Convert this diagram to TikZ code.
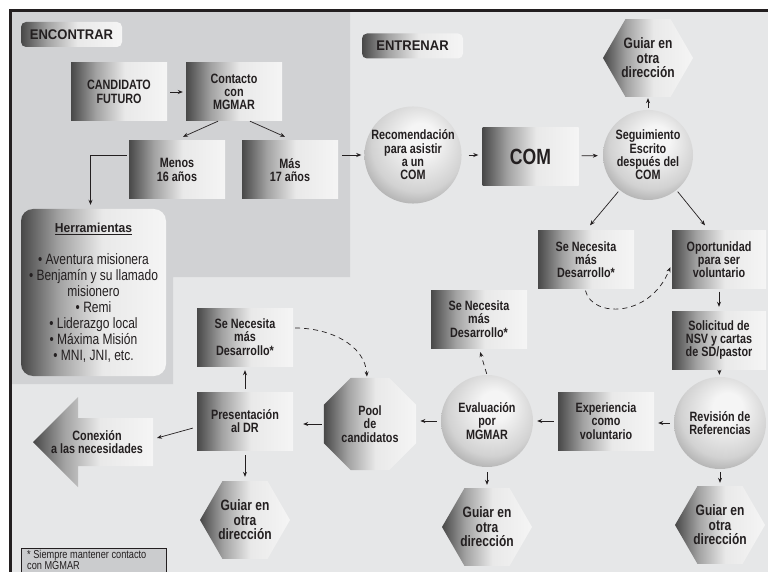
\documentclass[tikz,border=0pt]{standalone}
\usepackage{fontspec}
\setmainfont{Liberation Sans}
\newfontfamily\condf{Liberation Sans}[FakeStretch=0.8]
\newfontfamily\headf{Liberation Sans}[FakeStretch=0.93]
\usetikzlibrary{shapes.geometric,arrows.meta}
\definecolor{ink}{HTML}{231F20}
\definecolor{bgl}{HTML}{E6E7E8}
\definecolor{bgd}{HTML}{D1D2D4}
\definecolor{sd}{HTML}{484848}
\definecolor{sm}{HTML}{A2A2A2}
\definecolor{sl}{HTML}{E9E9E9}
\definecolor{sw}{HTML}{F5F5F5}
\definecolor{sc}{HTML}{D2D2D2}
\definecolor{sk}{HTML}{7E7E7E}
\definecolor{footbg}{HTML}{CBCCCE}
\pgfdeclarehorizontalshading{boxsh}{100bp}{color(0bp)=(sd); color(25bp)=(sd); color(38bp)=(sm); color(53bp)=(sl); color(75bp)=(sw); color(100bp)=(sw)}
\pgfdeclareradialshading{sph}{\pgfpoint{5bp}{10bp}}{color(0bp)=(sw); color(8bp)=(sw); color(24bp)=(sc); color(40bp)=(sk); color(50bp)=(sk)}
\begin{document}
\begin{tikzpicture}[x=1pt,y=-1pt,
  lbl/.style={font=\condf\bfseries\fontsize{13.5}{13.3}\selectfont, text=ink, align=center, inner sep=0pt},
  boxn/.style={lbl, shade, shading=boxsh, minimum width=96pt, minimum height=58pt},
  ball/.style={lbl, circle, shade, shading=sph, minimum size=90pt},
  hexn/.style={lbl, font=\condf\bfseries\fontsize{15}{14.5}\selectfont, regular polygon, regular polygon sides=6, minimum size=90pt, shade, shading=boxsh},
  octn/.style={lbl, regular polygon, regular polygon sides=8, minimum size=100pt, shade, shading=boxsh},
  tagn/.style={font=\headf\bfseries\fontsize{14}{14}\selectfont, text=ink, rounded corners=5pt, shade, shading=boxsh, minimum width=101pt, minimum height=25pt, inner sep=0pt},
  herrn/.style={font=\condf\fontsize{15}{16}\selectfont, text=ink, align=center, rounded corners=12pt, shade, shading=boxsh, minimum width=145pt, minimum height=167pt, inner sep=0pt},
  arr/.style={draw=ink, line width=0.7pt, -{Stealth[length=5pt,width=4pt]}},
  darr/.style={arr, dash pattern=on 5pt off 4pt}]
\useasboundingbox (0,0) rectangle (768,572);
\clip (0,0) rectangle (768,572);
\fill[white] (0,0) rectangle (768,572);
\fill[bgl] (10,10) rectangle (780,580);
\fill[bgd] (10,10) -- (350,10) -- (350,277) -- (173,277) -- (173,384) -- (10,384) -- cycle;
\draw[ink, line width=2.5pt] (10.5,580) -- (10.5,10.5) -- (780,10.5);

% labels
\node[tagn] (enc) at (71.5,34.5) {ENCONTRAR};
\node[tagn] (ent) at (412.5,46) {ENTRENAR};

% boxes
\node[boxn] (cand) at (119,92) {CANDIDATO\\FUTURO};
\node[boxn] (cont) at (234,92) {Contacto\\con\\MGMAR};
\node[boxn] (menos) at (177,170) {Menos\\16 años};
\node[boxn] (mas) at (290,170) {Más\\17 años};
\node[herrn] (herr) at (93.5,292.5) {{\headf\bfseries\fontsize{13}{13}\selectfont\underline{Herramientas}}\\[16pt]
 • Aventura misionera\\ • Benjamín y su llamado\\ misionero\\ • Remi\\ • Liderazgo local\\ • Máxima Misión\\ • MNI, JNI, etc.};
\node[ball] (recom) at (413,155) {Recomendación\\para asistir\\a un\\COM};
\node[boxn, font=\condf\bfseries\fontsize{22}{22}\selectfont] (com) at (530.5,156.5) {COM};
\node[ball] (seg) at (648,155) {Seguimiento\\Escrito\\después del\\COM};
\node[hexn] (g1) at (648,58) {Guiar en\\otra\\dirección};
\node[boxn] (sn1) at (586,259.5) {Se Necesita\\más\\Desarrollo*};
\node[boxn, minimum width=94pt] (oport) at (719,259.5) {Oportunidad\\para ser\\voluntario};
\node[boxn, minimum width=94pt] (sol) at (719,340) {Solicitud de\\NSV y cartas\\de SD/pastor};
\node[ball, minimum size=92pt] (rev) at (720,423) {Revisión de\\Referencias};
\node[hexn] (g4) at (720,525) {Guiar en\\otra\\dirección};
\node[boxn] (exp) at (606,421) {Experiencia\\como\\voluntario};
\node[ball, minimum size=92pt] (eval) at (487,421) {Evaluación\\por\\MGMAR};
\node[hexn] (g3) at (487,527) {Guiar en\\otra\\dirección};
\node[boxn] (sn2) at (479,319) {Se Necesita\\más\\Desarrollo*};
\node[octn] (pool) at (370,424) {Pool\\de\\candidatos};
\node[boxn] (pres) at (245,421) {Presentación\\al DR};
\node[boxn] (sn3) at (245,337) {Se Necesita\\más\\Desarrollo*};
\node[hexn] (g2) at (245,520) {Guiar en\\otra\\dirección};

% connection arrow shape
\shade[shading=boxsh] (33,442) -- (78,397) -- (78,418) -- (153,418) -- (153,466) -- (78,466) -- (78,487) -- cycle;
\node[lbl] (conex) at (97,442) {Conexión\\a las necesidades};
\coordinate (cxe) at (157,438);

% footnote
\draw[ink, line width=0.8pt, fill=footbg] (21,548) rectangle (166,600);
\node[font=\condf\fontsize{11.5}{11}\selectfont, text=ink, align=left, anchor=north west, inner sep=0pt] (foot) at (27,549.5) {* Siempre mantener contacto\\con MGMAR};

% connectors
\draw[arr, shorten <=3pt, shorten >=3pt] (cand) -- (cont);
\draw[arr] ([xshift=-16pt]cont.south) -- ([xshift=6pt,yshift=4pt]menos.north);
\draw[arr] ([xshift=16pt]cont.south) -- ([xshift=-5pt,yshift=4pt]mas.north);
\draw[arr, shorten <=2pt, shorten >=4pt] ([yshift=15pt]menos.west) -| ([xshift=-3pt]herr.north);
\draw[arr, shorten <=4pt, shorten >=3pt] (mas.east |- recom.west) -- (recom.west);
\draw[arr, shorten <=7pt, shorten >=4pt] (recom.east) -- (recom.east -| com.west);
\draw[arr, shorten <=3pt, shorten >=5pt] (com) -- (seg);
\draw[arr, shorten <=2pt, shorten >=1pt] (seg) -- (g1);
\draw[arr, shorten <=2pt] (seg.231) -- ([xshift=4pt,yshift=5pt]sn1.north);
\draw[arr, shorten <=2pt] (seg.309) -- ([xshift=-14pt,yshift=5pt]oport.north);
\draw[darr, shorten <=2pt, shorten >=4pt] ([xshift=-1pt]sn1.south) .. controls (592,318) and (650,318) .. ([yshift=-4pt]oport.west);
\draw[arr, shorten <=3pt, shorten >=4pt] (oport) -- (sol);
\draw[arr, shorten <=1pt, shorten >=2pt] (sol) -- (rev);
\draw[arr, shorten <=3pt, shorten >=3pt] (rev) -- (g4);
\draw[arr, shorten <=4pt, shorten >=4pt] (rev.west) -- (rev.west -| exp.east);
\draw[arr, shorten <=4pt, shorten >=4pt] (exp.west) -- (exp.west -| eval.east);
\draw[arr, shorten <=5pt, shorten >=3pt] (eval) -- (g3);
\draw[darr, shorten <=1pt, shorten >=4pt] (eval.north) -- (sn2.south);
\draw[arr, shorten <=4pt, shorten >=4pt] (eval.west) -- (eval.west -| pool.east);
\draw[arr, shorten <=2pt, shorten >=10pt] (pool.west) -- (pool.west -| pres.east);
\draw[arr, shorten <=3pt, shorten >=4pt] (pres) -- (sn3);
\draw[darr, shorten <=2pt, shorten >=1pt] ([yshift=9pt]sn3.east) .. controls (330,328) and (365,345) .. ([xshift=-3pt]pool.north);
\draw[arr, shorten <=4pt] ([yshift=-6pt]pres.west) -- (cxe);
\draw[arr, shorten <=5pt, shorten >=4pt] (pres) -- (g2);
\end{tikzpicture}
\end{document}
